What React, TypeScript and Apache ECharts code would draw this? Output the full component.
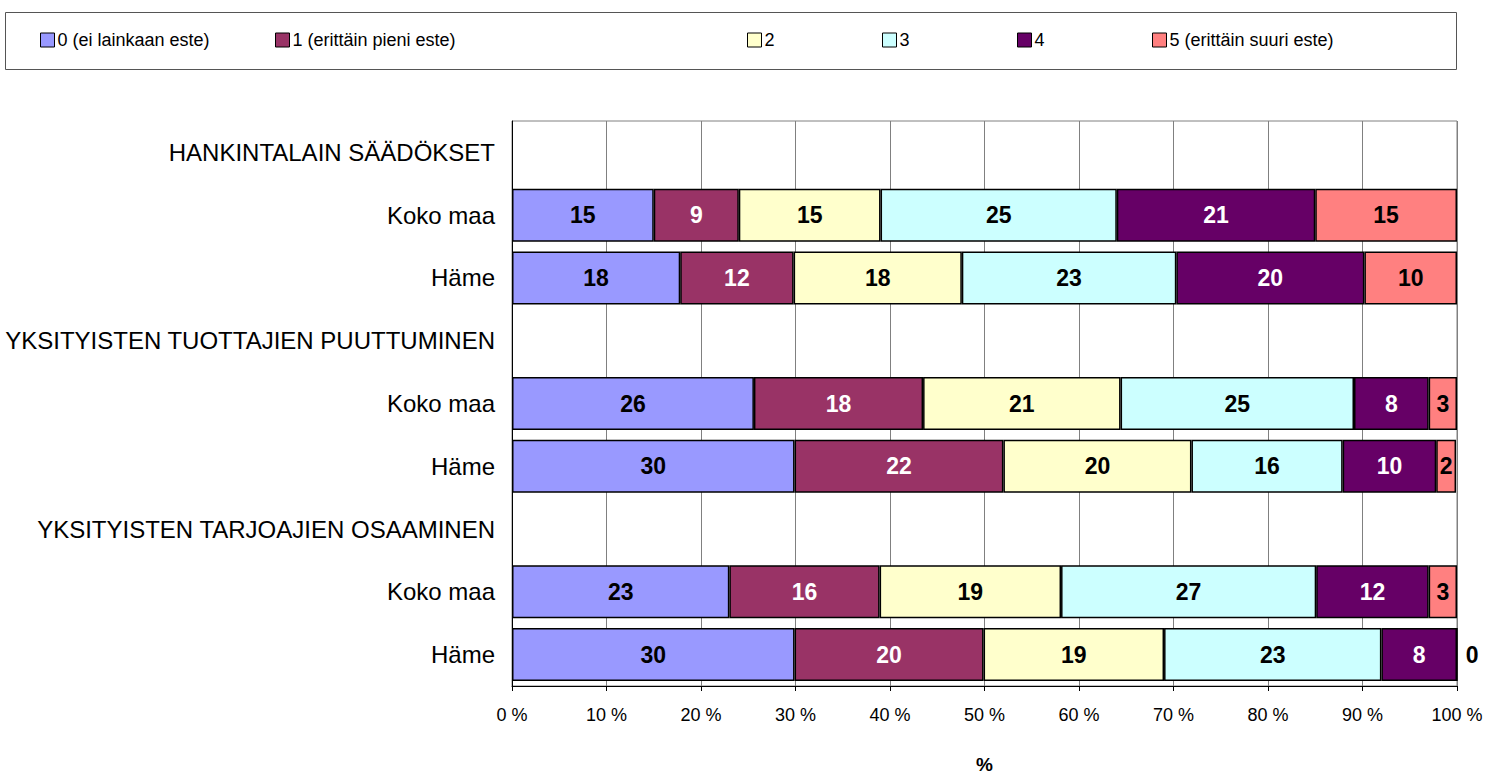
import React, { useEffect, useRef } from "react";
import * as echarts from "echarts";

const categories = [
  "HANKINTALAIN SÄÄDÖKSET",
  "Koko maa",
  "Häme",
  "YKSITYISTEN TUOTTAJIEN PUUTTUMINEN",
  "Koko maa",
  "Häme",
  "YKSITYISTEN TARJOAJIEN OSAAMINEN",
  "Koko maa",
  "Häme",
];

const seriesNames = [
  "0 (ei lainkaan este)",
  "1 (erittäin pieni este)",
  "2",
  "3",
  "4",
  "5 (erittäin suuri este)",
];

const s0 = [null, 15, 17.8, null, 25.6, 29.9, null, 23.0, 29.9];
const s1 = [null, 9, 12.0, null, 17.9, 22.1, null, 15.9, 20.0];
const s2 = [null, 15, 17.8, null, 20.9, 19.9, null, 19.2, 19.1];
const s3 = [null, 25, 22.7, null, 24.7, 16.0, null, 27.0, 23.0];
const s4 = [null, 21, 19.9, null, 7.9, 9.9, null, 11.9, 8.0];
const s5 = [null, 15, 9.8, null, 3.0, 2.1, null, 3.0, 0];

const seriesValues = [s0, s1, s2, s3, s4, s5];
const colors = ["#9999FF", "#993366", "#FFFFCC", "#CCFFFF", "#660066", "#FF8080"];
const labelColors = ["#000", "#fff", "#000", "#000", "#fff", "#000"];
const xTicks = [0, 10, 20, 30, 40, 50, 60, 70, 80, 90, 100];
const legendLefts = [40, 275, 747, 882, 1017, 1152];

const FONT = "'Liberation Sans', Arial, sans-serif";

export default function App() {
  const ref = useRef<HTMLDivElement>(null);
  useEffect(() => {
    document.body.style.margin = "0";
    const chart = echarts.init(ref.current!, null, { renderer: "svg" });
    const series = seriesValues.map((vals, i) => ({
      name: seriesNames[i],
      type: "bar",
      stack: "total",
      barWidth: 53,
      itemStyle: { color: colors[i], borderColor: "#000", borderWidth: 1.5 },
      label: {
        show: true,
        position: "inside",
        color: labelColors[i],
        fontWeight: "bold",
        fontSize: 23,
        fontFamily: FONT,
        formatter: (p: any) => (p.value == null ? "" : String(Math.round(p.value))),
      },
      data: vals.map((v) =>
        v === 0
          ? { value: 0, label: { position: "right", distance: 8, color: "#000" } }
          : v
      ),
    }));
    chart.setOption({
      animation: false,
      textStyle: { fontFamily: FONT },
      legend: seriesNames.map((n, i) => ({
        data: [n],
        left: legendLefts[i],
        top: 31,
        padding: 0,
        icon: "rect",
        itemWidth: 14,
        itemHeight: 14,
        itemGap: 4,
        selectedMode: false,
        itemStyle: { borderColor: "#000", borderWidth: 1 },
        textStyle: { fontSize: 18, color: "#000", fontFamily: FONT, padding: [0, 0, 0, -2] },
      })),
      graphic: [
        {
          type: "rect",
          shape: { x: 5.5, y: 12.5, width: 1451, height: 57 },
          style: { fill: "none", stroke: "#555", lineWidth: 1 },
        },
      ],
      grid: {
        left: 512,
        right: 30,
        top: 121,
        bottom: 89,
        show: true,
        borderColor: "#808080",
        borderWidth: 1,
        outerBoundsMode: "none",
        containLabel: false,
      },
      xAxis: {
        type: "value",
        min: 0,
        max: 100,
        interval: 10,
        name: "%",
        nameLocation: "middle",
        nameGap: 69,
        nameTextStyle: { fontSize: 19, fontWeight: "bold", color: "#000", fontFamily: FONT },
        axisLine: { show: true, lineStyle: { color: "#000", width: 1 } },
        axisTick: { show: true, length: 5, lineStyle: { color: "#000" } },
        splitLine: { show: true, lineStyle: { color: "#808080", width: 1 } },
        axisLabel: {
          fontSize: 18,
          color: "#000",
          margin: 20,
          fontFamily: FONT,
          formatter: (v: number) => (xTicks.includes(v) ? `${v} %` : ""),
        },
      },
      yAxis: {
        type: "category",
        inverse: true,
        data: categories,
        axisLine: { show: true, lineStyle: { color: "#000" } },
        axisTick: { show: false },
        axisLabel: { fontSize: 24, color: "#000", margin: 17, fontFamily: FONT },
      },
      series,
    });
    return () => chart.dispose();
  }, []);
  return <div ref={ref} style={{ width: 1487, height: 775 }} />;
}
